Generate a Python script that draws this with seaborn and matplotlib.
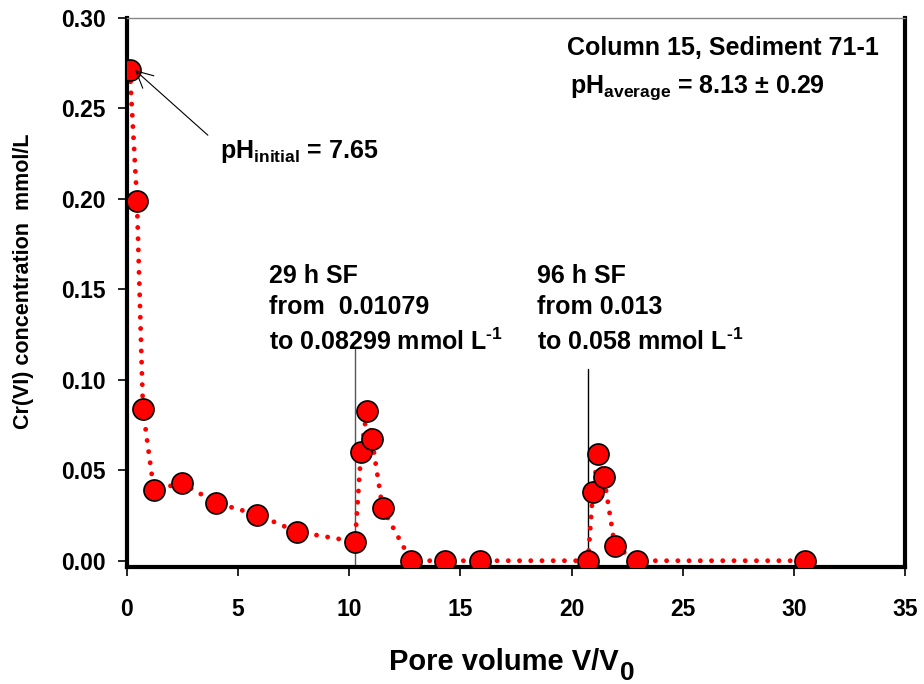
import matplotlib
matplotlib.use("Agg")
import matplotlib.pyplot as plt
import seaborn as sns
import pandas as pd

pore_volume = [0.13, 0.45, 0.72, 1.21, 2.47, 4.0, 5.85, 7.65, 10.26, 10.53, 10.8, 11.02, 11.5,
               12.78, 14.3, 15.88, 20.74, 20.96, 21.19, 21.46, 21.95, 22.94, 30.5]
cr_conc = [0.271, 0.199, 0.0836, 0.039, 0.043, 0.032, 0.0255, 0.016, 0.0105, 0.060, 0.083, 0.067, 0.029,
           0.0, 0.0, 0.0, 0.0, 0.038, 0.059, 0.046, 0.008, 0.0, 0.0]
sf_positions = [10.26, 20.74]
x_ticks = [0, 5, 10, 15, 20, 25, 30, 35]
y_ticks = [0.00, 0.05, 0.10, 0.15, 0.20, 0.25, 0.30]

df = pd.DataFrame({"pv": pore_volume, "cr": cr_conc})

sns.set_theme(style="ticks")
plt.rcParams['font.family'] = ['Liberation Sans', 'DejaVu Sans']
plt.rcParams['font.weight'] = 'bold'
plt.rcParams['text.color'] = 'black'
plt.rcParams['axes.labelcolor'] = 'black'
plt.rcParams['xtick.color'] = 'black'
plt.rcParams['ytick.color'] = 'black'
plt.rcParams['mathtext.fontset'] = 'custom'
plt.rcParams['mathtext.rm'] = 'Liberation Sans:bold'
plt.rcParams['mathtext.bf'] = 'Liberation Sans:bold'
plt.rcParams['mathtext.it'] = 'Liberation Sans:bold'

fig = plt.figure(figsize=(9.24, 6.84), dpi=100)
ax = fig.add_axes([0.1374, 0.171, 0.842, 0.8027])

# vertical SF lines
ax.plot([sf_positions[0]] * 2, [-0.0035, 0.118], color='#555555', lw=1.0, zorder=1)
ax.plot([sf_positions[1]] * 2, [-0.0035, 0.106], color='black', lw=1.0, zorder=1)

sns.lineplot(data=df, x="pv", y="cr", sort=False, ax=ax, color='red', lw=3.5,
             linestyle=(0, (0.01, 2.3)), dash_capstyle='round', zorder=2)
sns.scatterplot(data=df, x="pv", y="cr", ax=ax, color='red', edgecolor='black',
                s=230, linewidth=1.2, zorder=3)

ax.set_xlim(0, 35)
ax.set_ylim(-0.0035, 0.30)
ax.set_xticks(x_ticks)
ax.set_yticks(y_ticks)
ax.set_xticklabels([str(t) for t in x_ticks], fontsize=16.5, fontweight='bold')
ax.set_yticklabels([f"{t:.2f}" for t in y_ticks], fontsize=16.5, fontweight='bold')
ax.tick_params(axis='both', direction='out', length=6.5, width=1.2, colors='black')
ax.tick_params(axis='y', pad=9)
ax.tick_params(axis='x', pad=16)

for side in ['left', 'bottom', 'right']:
    ax.spines[side].set_linewidth(3)
    ax.spines[side].set_color('black')
ax.spines['top'].set_linewidth(1)
ax.spines['top'].set_color('#888888')

ax.set_xlabel("")
ax.set_ylabel("Cr(VI) concentration  mmol/L", fontsize=15.5, fontweight='bold', color='black')
ax.yaxis.set_label_coords(-0.12, 0.521)

# x label with large subscript
xl = fig.text(389 / 924, 1 - 670 / 684, "Pore volume V/V", fontsize=21, fontweight='bold',
              ha='left', va='baseline', color='black')
fig.canvas.draw()
bb = xl.get_window_extent(renderer=fig.canvas.get_renderer())
fig.text(bb.x1 / fig.bbox.width + 0.001, 1 - 680 / 684, "0", fontsize=19, fontweight='bold',
         ha='left', va='baseline', color='black')

# pH initial annotation
ax.annotate("", xy=(0.36, 0.2712), xytext=(3.64, 0.2352),
            arrowprops=dict(arrowstyle='->', color='black', lw=0.8,
                            shrinkA=0, shrinkB=0, mutation_scale=30))
ax.text(4.18, 0.2225, r"pH$_{\mathbf{initial}}$ = 7.65", fontsize=18, fontweight='bold',
        ha='left', va='baseline')

ax.text(6.39, 0.1533, "29 h SF", fontsize=18, fontweight='bold', va='baseline')
ax.text(6.39, 0.1362, "from  0.01079", fontsize=18, fontweight='bold', va='baseline')
ax.text(6.39, 0.1162, r"to 0.08299 mmol L$^{\text{-1}}$", fontsize=18, fontweight='bold', va='baseline')

ax.text(18.44, 0.1533, "96 h SF", fontsize=18, fontweight='bold', va='baseline')
ax.text(18.44, 0.1362, "from 0.013", fontsize=18, fontweight='bold', va='baseline')
ax.text(18.44, 0.1162, r"to 0.058 mmol L$^{\text{-1}}$", fontsize=18, fontweight='bold', va='baseline')

ax.text(19.79, 0.2795, "Column 15, Sediment 71-1", fontsize=18, fontweight='bold', va='baseline')
ax.text(19.93, 0.2585, r"pH$_{\mathbf{average}}$ = 8.13 ± 0.29", fontsize=18, fontweight='bold', va='baseline')

fig.savefig("out.png", dpi=100)
